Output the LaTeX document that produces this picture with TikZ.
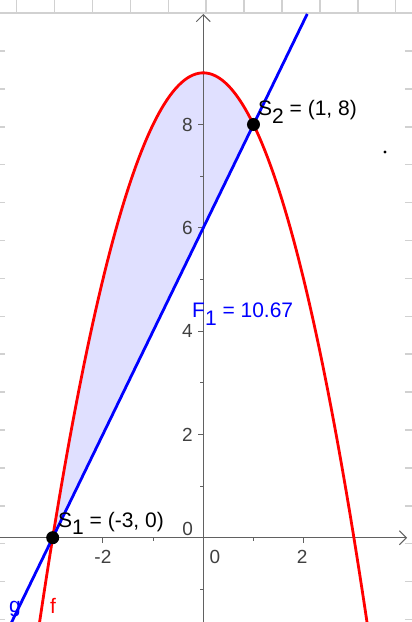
\documentclass[tikz,border=0pt]{standalone}
\usepackage{fontspec}
\setmainfont{Liberation Sans}
\usetikzlibrary{arrows.meta}

\tikzset{
  axislabel/.style={text=black!75, font=\fontsize{19}{19}\selectfont, inner sep=0pt},
  ptlabel/.style={font=\fontsize{21}{21}\selectfont, inner sep=0pt, anchor=base west},
  framemark/.style={draw=black!18, line width=1.5pt},
  axisline/.style={draw=black!62, line width=1pt},
  dot/.style={circle, fill=black, inner sep=0pt, minimum size=13pt},
}
\newcommand{\lowsub}[1]{\raisebox{-0.38em}{#1}}

\begin{document}
\begin{tikzpicture}[x=50.2pt, y=51.65pt]
  \useasboundingbox (-203.3pt,-84.3pt) rectangle (208.7pt,537.7pt);
  \clip (-203.3pt,-84.3pt) rectangle (208.7pt,537.7pt);

  % window frame (pixel units, from the top left corner)
  \begin{scope}[x=1pt, y=-1pt, shift={(-203.3pt,537.7pt)}]
    \draw[framemark] (0,13) -- (412,13);
    \foreach \i in {0,...,10}
      \draw[framemark] ({16.7+37.9*\i},0) -- ({16.7+37.9*\i},13);
    \foreach \i in {0,...,15} {
      \draw[framemark] (0,{51+37.9*\i}) -- (5,{51+37.9*\i});
      \draw[framemark] (405,{51+37.9*\i}) -- (412,{51+37.9*\i});
    }
    \fill (385,152) circle (1.6);
  \end{scope}

  % area between f and g
  \fill[blue!12] (-3,0) -- (1,8) -- plot[domain=1:-3, samples=80] (\x, {9-\x*\x}) -- cycle;

  % axes
  \draw[axisline, -{Straight Barb[length=7pt, width=14pt]}] (-4.1,0) -- (4.06,0);
  \draw[axisline, -{Straight Barb[length=7pt, width=14pt]}] (0,-1.7) -- (0,10.14);
  \foreach \x in {-3,-1,1,3} \draw[axisline] (\x,0) -- ++(0,-3pt);
  \foreach \x in {-2,2} \draw[axisline] (\x,0) -- ++(0,-5pt);
  \foreach \y in {-1,1,3,5,7,9} \draw[axisline] (0,\y) -- ++(-3pt,0);
  \foreach \y in {2,4,6,8} {
    \draw[axisline] (0,\y) -- ++(-5pt,0);
    \node[axislabel, anchor=east] (ylab\y) at (-0.205,\y) {\y};
  }
  \node[axislabel] (xlabm2) at (-2,-0.38) {-2};
  \node[axislabel] (xlab2) at (1.97,-0.38) {2};
  \node[axislabel] (xlab0) at (0.23,-0.37) {0};
  \node[axislabel] (ylab0) at (-0.31,0.17) {0};

  % f and g
  \draw[red, line width=2.8pt, domain=-3.4:3.4, samples=120] plot (\x, {9-\x*\x});
  \draw[blue, line width=2.8pt] (-3.9,-1.8) -- (2.07,10.14);

  % intersection points
  \node[dot] (s1) at (-3,0) {};
  \node[dot] (s2) at (1,8) {};

  \node[ptlabel] (s1lab) at (-2.894,0.207) {S\lowsub{1} = (-3, 0)};
  \node[ptlabel] (s2lab) at (1.09,8.18) {S\lowsub{2} = (1, 8)};
  \node[ptlabel, text=blue] (f1lab) at (-0.225,4.254) {F\lowsub{1} = 10.67};
  \node[ptlabel, text=blue, anchor=base] (glab) at (-3.751,-1.439) {g};
  \node[ptlabel, text=red, anchor=base] (flab) at (-2.994,-1.458) {f};
\end{tikzpicture}
\end{document}
